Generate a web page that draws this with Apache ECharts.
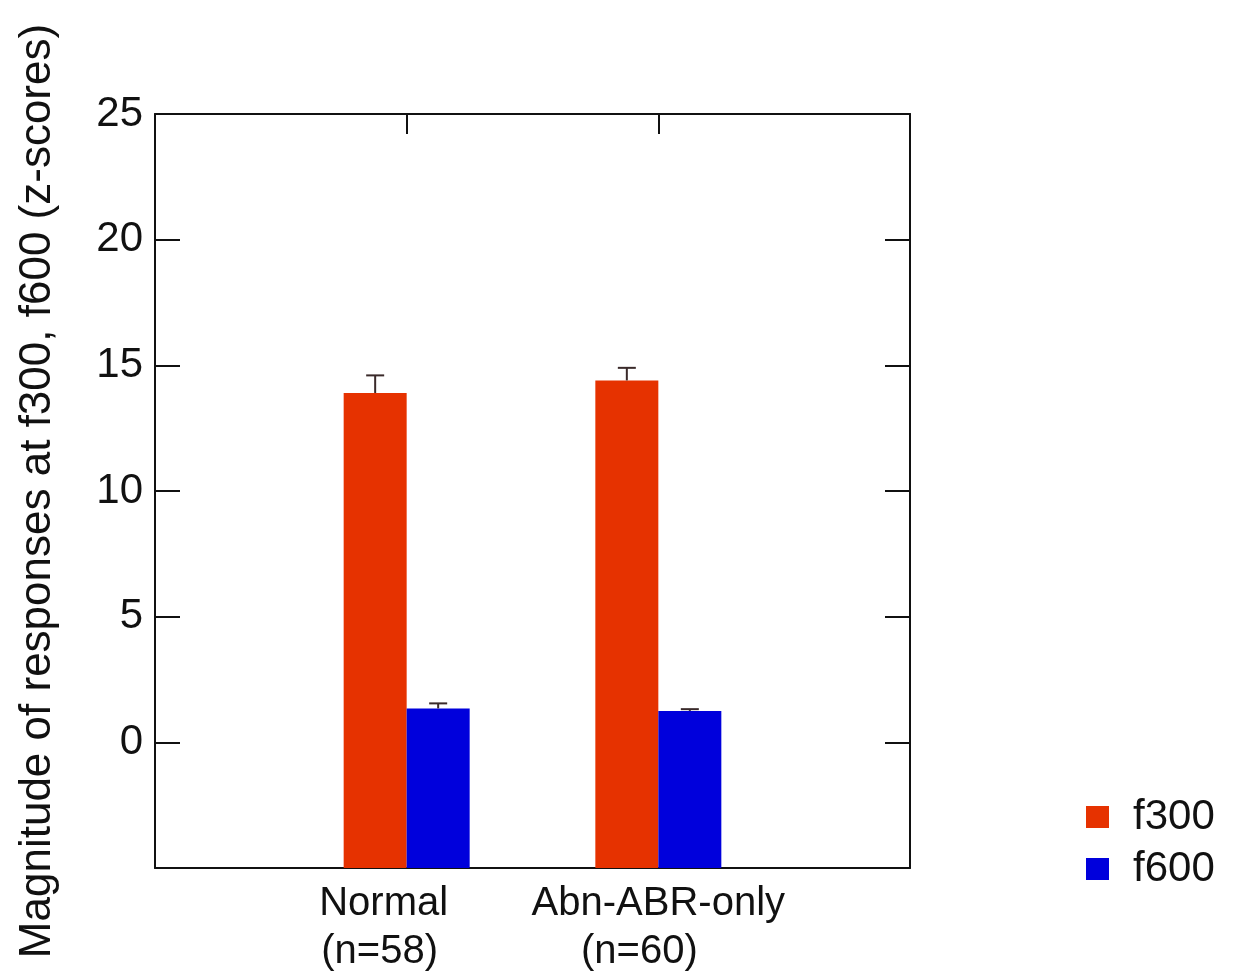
<!DOCTYPE html>
<html>
<head>
<meta charset="utf-8">
<script src="https://cdn.jsdelivr.net/npm/echarts@6/dist/echarts.min.js"></script>
<style>
html,body{margin:0;padding:0;background:#fff;}
#chart{width:1234px;height:979px;}
</style>
</head>
<body>
<div id="chart"></div>
<script>
// ---- data ----
var categories = ['Normal\n(n=58)', 'Abn-ABR-only\n(n=60)'];
var seriesNames = ['f300', 'f600'];
var f300 = [13.9, 14.4];
var f300Err = [0.7, 0.5];
var f600 = [1.35, 1.25];
var f600Err = [0.2, 0.07];
var yTicks = [-5, 0, 5, 10, 15, 20, 25];

// ---- build ----
var axisCats = [''].concat(categories).concat(['']);
var yMin = yTicks[0], yMax = yTicks[yTicks.length - 1], yStep = yTicks[1] - yTicks[0];
var colors = ['#E63200', '#0000DC'];

function makeData(vals, errs) {
  return vals.map(function (v, i) { return [i + 1, v, errs[i]]; });
}

function renderFactory(side) {
  return function (params, api) {
    var idx = api.value(0), val = api.value(1), err = api.value(2);
    var base = api.coord([idx, yMin]);
    var top = api.coord([idx, val]);
    var errTop = api.coord([idx, val + err]);
    var w = 63;
    var x0 = side < 0 ? base[0] - w : base[0];
    var cx = x0 + w / 2;
    var cap = 9;
    return {
      type: 'group',
      children: [
        { type: 'rect', shape: { x: x0, y: top[1], width: w, height: base[1] - top[1] },
          style: { fill: api.visual('color') } },
        { type: 'line', shape: { x1: cx, y1: top[1], x2: cx, y2: errTop[1] },
          style: { stroke: '#3a2a2a', lineWidth: 2 } },
        { type: 'line', shape: { x1: cx - cap, y1: errTop[1], x2: cx + cap, y2: errTop[1] },
          style: { stroke: '#3a2a2a', lineWidth: 2 } }
      ]
    };
  };
}

var labelShift = [[-23, -27], [0, -19]];
var rich = {};
labelShift.forEach(function (s, i) {
  s.forEach(function (d, j) {
    rich['l' + i + '_' + j] = {
      fontSize: 40, fontFamily: 'Liberation Sans', color: '#111', lineHeight: 48,
      padding: d < 0 ? [0, -2 * d, 0, 0] : [0, 0, 0, 2 * d]
    };
  });
});

var font = 'Liberation Sans';
var option = {
  backgroundColor: '#fff',
  animation: false,
  grid: { left: 155, top: 114, right: 324, bottom: 111, containLabel: false },
  legend: {
    orient: 'vertical', left: 1086, top: 796, padding: 0,
    itemWidth: 23, itemHeight: 22, itemGap: 10,
    icon: 'rect',
    data: seriesNames,
    textStyle: { fontSize: 42, fontFamily: font, color: '#111', padding: [0, 0, 0, 19] }
  },
  xAxis: [
    {
      type: 'category', data: axisCats, boundaryGap: false, position: 'bottom',
      axisLine: { onZero: false, lineStyle: { color: '#111', width: 2 } },
      axisTick: { show: false },
      axisLabel: {
        margin: 12, interval: 0,
        formatter: function (v, i) {
          var ci = categories.indexOf(v);
          if (ci < 0) return '';
          return v.split('\n').map(function (line, j) {
            return '{l' + ci + '_' + j + '|' + line + '}';
          }).join('\n');
        },
        rich: rich
      },
      splitLine: { show: false }
    },
    {
      type: 'category', data: axisCats, boundaryGap: false, position: 'top',
      axisLine: { onZero: false, lineStyle: { color: '#111', width: 2 } },
      axisTick: { show: true, inside: true, length: 20, lineStyle: { color: '#111', width: 2 },
        interval: function (i) { return i > 0 && i < axisCats.length - 1; } },
      axisLabel: { show: false },
      splitLine: { show: false }
    }
  ],
  yAxis: [
    {
      type: 'value', min: yMin, max: yMax, interval: yStep, position: 'left',
      name: 'Magnitude of responses at f300, f600 (z-scores)',
      nameLocation: 'middle', nameGap: 95,
      nameTextStyle: { fontSize: 44, fontFamily: font, color: '#111' },
      axisLine: { show: true, onZero: false, lineStyle: { color: '#111', width: 2 } },
      axisTick: { show: true, inside: true, length: 25, lineStyle: { color: '#111', width: 2 } },
      axisLabel: { fontSize: 42, fontFamily: font, color: '#111', margin: 12,
        formatter: function (v) { return v < 0 ? '' : String(v); } },
      splitLine: { show: false }
    },
    {
      type: 'value', min: yMin, max: yMax, interval: yStep, position: 'right',
      axisLine: { show: true, onZero: false, lineStyle: { color: '#111', width: 2 } },
      axisTick: { show: true, inside: true, length: 25, lineStyle: { color: '#111', width: 2 } },
      axisLabel: { show: false },
      splitLine: { show: false }
    }
  ],
  series: [
    { name: seriesNames[0], type: 'custom', xAxisIndex: 0, yAxisIndex: 0,
      itemStyle: { color: colors[0] }, renderItem: renderFactory(-1),
      encode: { x: 0, y: 1 }, data: makeData(f300, f300Err) },
    { name: seriesNames[1], type: 'custom', xAxisIndex: 0, yAxisIndex: 0,
      itemStyle: { color: colors[1] }, renderItem: renderFactory(1),
      encode: { x: 0, y: 1 }, data: makeData(f600, f600Err) }
  ]
};

var chart = echarts.init(document.getElementById('chart'), null, { renderer: 'canvas' });
chart.setOption(option);
</script>
</body>
</html>
